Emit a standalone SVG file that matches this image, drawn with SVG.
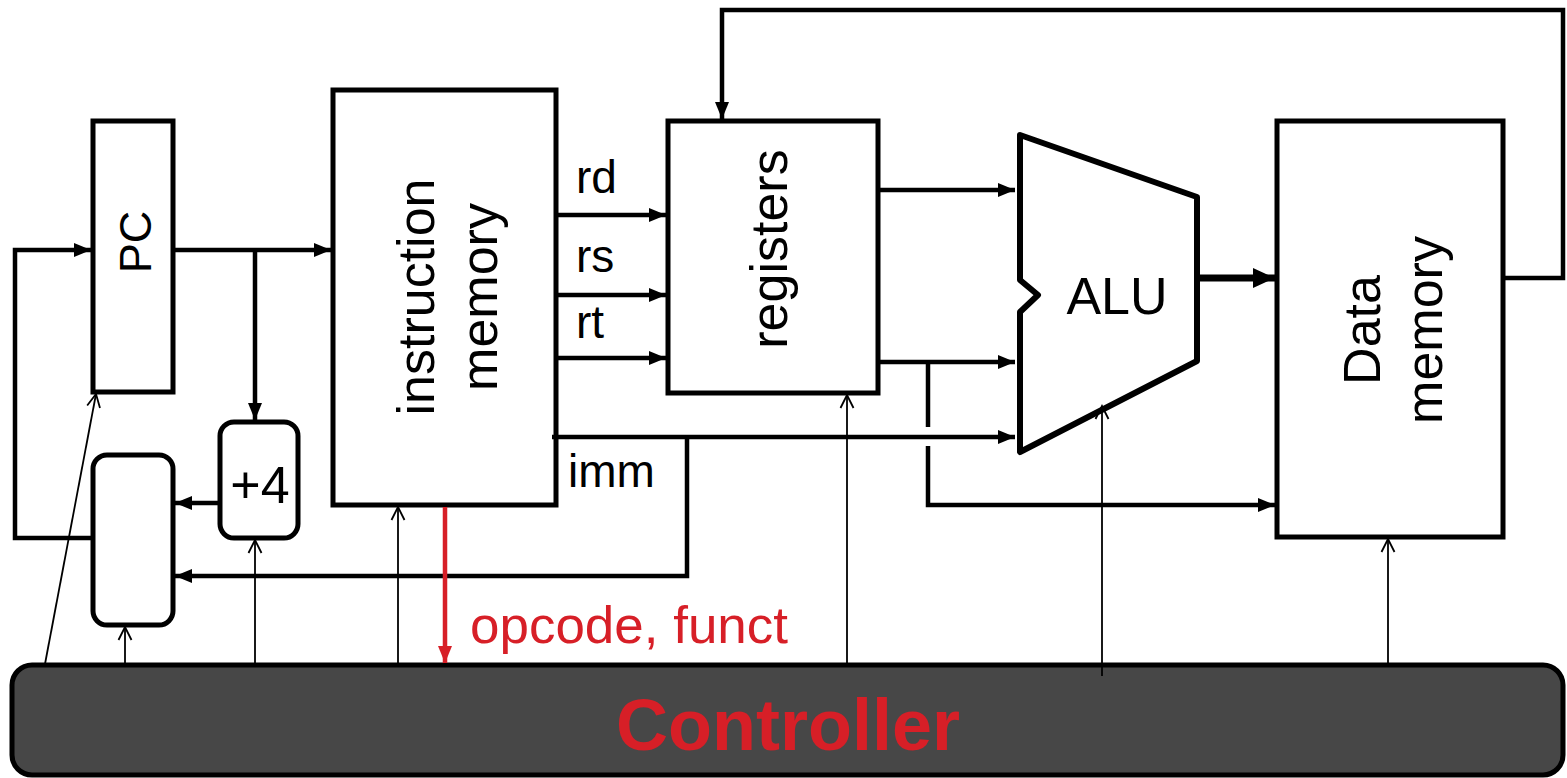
<svg xmlns="http://www.w3.org/2000/svg" width="1567" height="778" viewBox="0 0 1567 778">
<defs>
<style>
.box{fill:#fff;stroke:#000;stroke-width:5}
.lbl{font-family:"Liberation Sans",Arial,sans-serif;font-size:52px;fill:#000}
.w{fill:none;stroke:#000;stroke-width:4.5}
.t{fill:none;stroke:#000;stroke-width:1.8}
</style>
<marker id="ah" markerUnits="userSpaceOnUse" markerWidth="20" markerHeight="18" refX="17" refY="9" orient="auto"><path d="M0,2 L17,9 L0,16 z" fill="#000"/></marker>
<marker id="ahb" markerUnits="userSpaceOnUse" markerWidth="24" markerHeight="22" refX="22" refY="11" orient="auto"><path d="M0,1 L22,11 L0,21 z" fill="#000"/></marker>
<marker id="oh" markerUnits="userSpaceOnUse" markerWidth="16" markerHeight="16" refX="14" refY="8" orient="auto"><path d="M1,1.5 L14,8 L1,14.5" fill="none" stroke="#000" stroke-width="1.8"/></marker>
<marker id="ahr" markerUnits="userSpaceOnUse" markerWidth="20" markerHeight="18" refX="17" refY="9" orient="auto"><path d="M0,2 L17,9 L0,16 z" fill="#d71f27"/></marker>
</defs>
<rect width="1567" height="778" fill="#fff"/>

<g id="pc">
<rect class="box" x="93" y="121" width="80" height="271"/>
<text class="lbl" style="font-size:45px" text-anchor="middle" transform="translate(151,242) rotate(-90)">PC</text>
</g>

<g id="plus4">
<rect class="box" x="220" y="422" width="78" height="116" rx="14"/>
<text class="lbl" text-anchor="middle" x="260" y="503">+4</text>
</g>

<g id="mux">
<rect class="box" x="93" y="455" width="80" height="170" rx="14"/>
</g>

<g id="imem">
<rect class="box" x="333" y="90" width="223" height="415"/>
<text class="lbl" text-anchor="middle" transform="translate(434,297) rotate(-90)">instruction</text>
<text class="lbl" text-anchor="middle" transform="translate(497,297) rotate(-90)">memory</text>
</g>

<g id="field-labels">
<text class="lbl" x="576" y="193" style="font-size:46px">rd</text>
<text class="lbl" x="576" y="272" style="font-size:46px">rs</text>
<text class="lbl" x="576" y="338" style="font-size:46px">rt</text>
<text class="lbl" x="568" y="487" style="font-size:46px">imm</text>
<text x="470" y="643" style="font-family:'Liberation Sans',Arial,sans-serif;font-size:52px;fill:#d71f27" textLength="318" lengthAdjust="spacingAndGlyphs">opcode, funct</text>
</g>

<g id="registers">
<rect class="box" x="668" y="121" width="210" height="272"/>
<text class="lbl" text-anchor="middle" transform="translate(787,249) rotate(-90)">registers</text>
</g>

<g id="alu">
<path d="M1020,135 L1197,197 L1197,361 L1020,452 L1020,312 L1038,295 L1020,280 Z" fill="#fff" stroke="#000" stroke-width="6" stroke-linejoin="round"/>
<text class="lbl" text-anchor="middle" x="1117" y="314">ALU</text>
</g>

<g id="dmem">
<rect class="box" x="1277" y="121" width="226" height="416"/>
<text class="lbl" text-anchor="middle" transform="translate(1380,330) rotate(-90)">Data</text>
<text class="lbl" text-anchor="middle" transform="translate(1442,330) rotate(-90)">memory</text>
</g>

<g id="controller">
<rect x="12" y="665" width="1551" height="110" rx="20" fill="#474747" stroke="#000" stroke-width="5"/>
<text x="788" y="750" text-anchor="middle" style="font-family:'Liberation Sans',Arial,sans-serif;font-size:72px;font-weight:bold;fill:#d71f27">Controller</text>
</g>

<g id="connectors">
<path class="w" d="M173,250 H331" marker-end="url(#ah)"/>
<path class="w" d="M255,250 V420" marker-end="url(#ah)"/>
<path class="w" d="M220,503 H175" marker-end="url(#ah)"/>
<path class="w" d="M93,538 H15 V250 H91" marker-end="url(#ah)"/>
<path class="w" d="M687,437 V576 H175" marker-end="url(#ah)"/>
<path class="w" d="M556,215 H666" marker-end="url(#ah)"/>
<path class="w" d="M556,295 H666" marker-end="url(#ah)"/>
<path class="w" d="M556,358 H666" marker-end="url(#ah)"/>
<path class="w" d="M552,437 H1015" marker-end="url(#ah)"/>
<path class="w" d="M878,190 H1015" marker-end="url(#ah)"/>
<path class="w" d="M878,362 H1015" marker-end="url(#ah)"/>
<path class="w" d="M928,362 V427"/>
<path class="w" d="M928,446 V505 H1275" marker-end="url(#ah)"/>
<path fill="none" stroke="#000" stroke-width="7" d="M1197,278 H1275" marker-end="url(#ahb)"/>
<path class="w" d="M1503,278 H1563 V10 H722 V119" marker-end="url(#ah)"/>
<path class="t" d="M45,664 L96,394" marker-end="url(#oh)"/>
<path class="t" d="M125,664 V627" marker-end="url(#oh)"/>
<path class="t" d="M255,664 V540" marker-end="url(#oh)"/>
<path class="t" d="M398,664 V507" marker-end="url(#oh)"/>
<path class="t" d="M847,664 V395" marker-end="url(#oh)"/>
<path class="t" d="M1102,676 V406" marker-end="url(#oh)"/>
<path class="t" d="M1388,664 V539" marker-end="url(#oh)"/>
<path fill="none" stroke="#d71f27" stroke-width="4.5" d="M445,507 V663" marker-end="url(#ahr)"/>
</g>
</svg>
